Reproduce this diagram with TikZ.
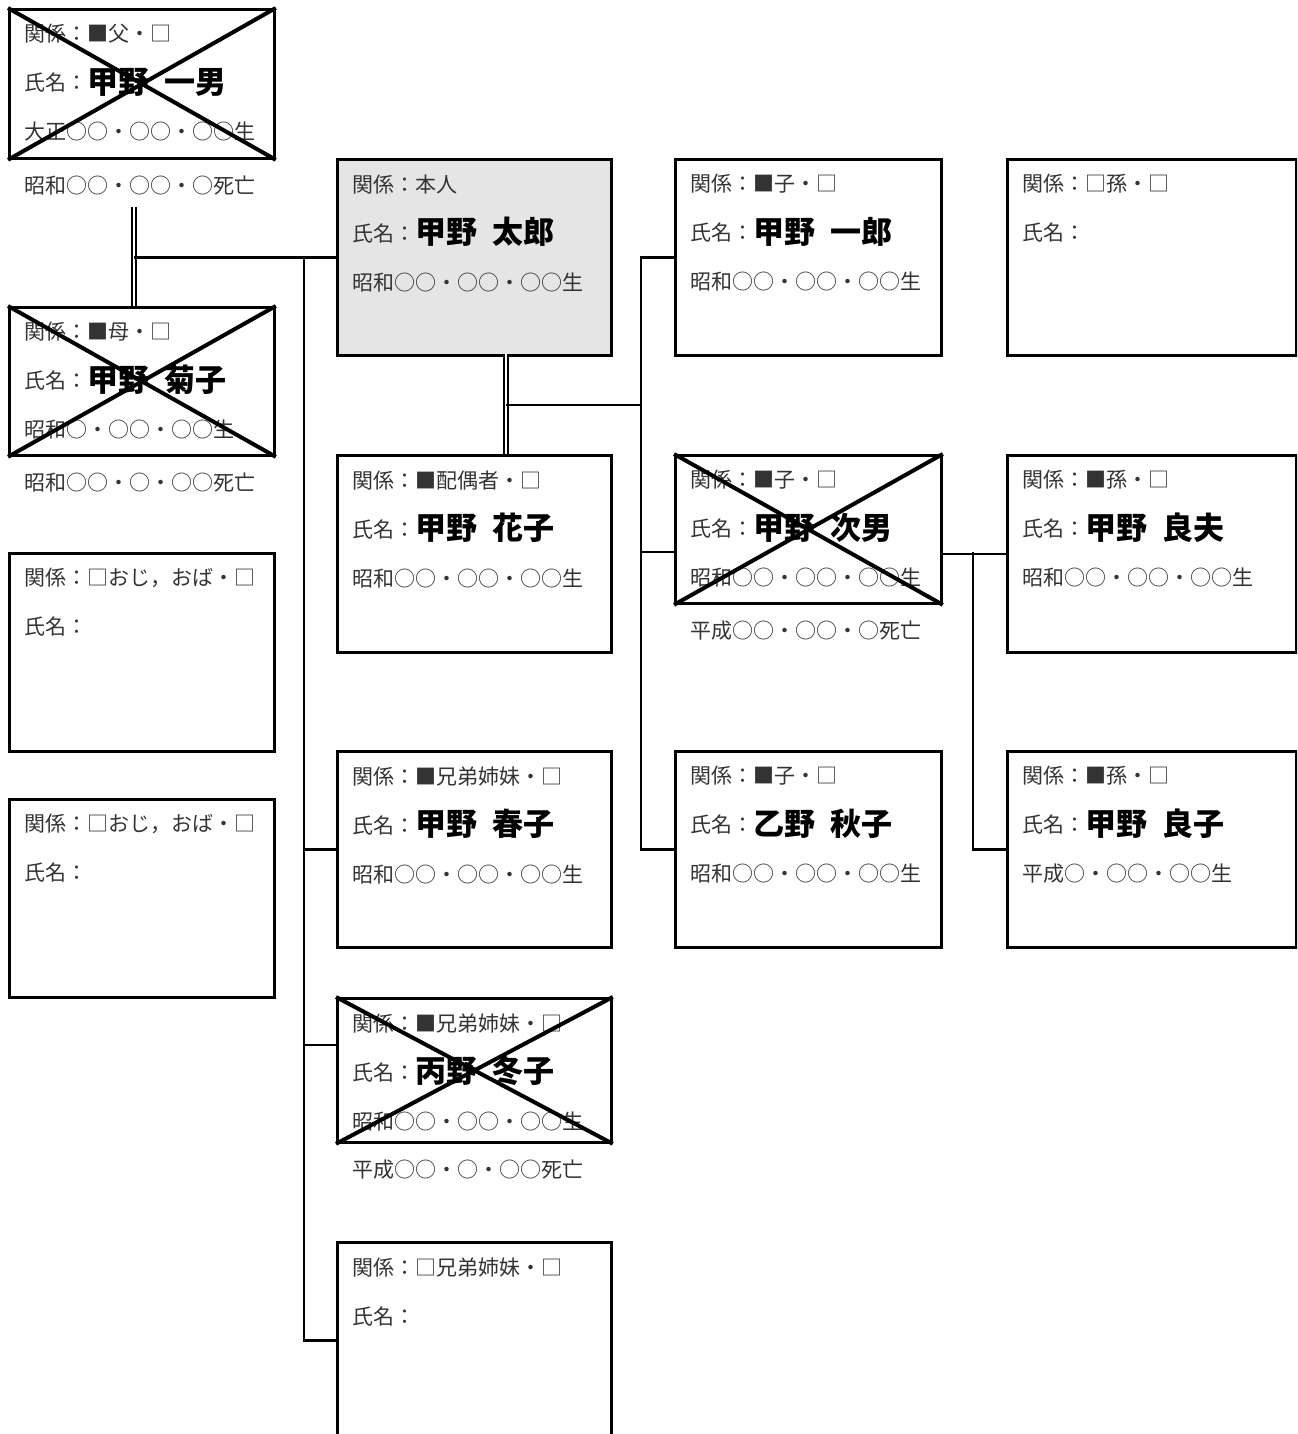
\documentclass[tikz,border=0pt]{standalone}
\usepackage{fontspec}
\setmainfont{Noto Sans CJK JP}
\usepackage{xcolor}
\newcommand{\kname}[2]{\raisebox{-1.2pt}{\color{black}\fontsize{15.5}{24.5}\selectfont\bfseries #1\enspace #2}}

\begin{document}
\begin{tikzpicture}[x=0.5pt,y=-0.5pt,
  card/.style={draw,line width=1.4pt,anchor=north west,inner sep=0pt},
  lcol/.style={card,minimum width=132.5pt},
  mcol/.style={card,minimum width=137pt},
  ccol/.style={card,minimum width=133pt},
  gcol/.style={card,minimum width=144.5pt},
  txt/.style={anchor=north west,inner sep=0pt,align=left,text=black!80,
              font=\fontsize{10.5}{24.5}\selectfont},
  conn/.style={line width=1.2pt},
  dbl/.style={double,double distance=0.9pt,line width=0.85pt},
  cross/.style={line width=2pt}]
\useasboundingbox (0,0) rectangle (1297,1434);
\clip (0,0) rectangle (1297,1434);

% left column
\node[lcol,minimum height=74.5pt] (fa) at (8,8) {};
\node[lcol,minimum height=74pt] (mo) at (8,306) {};
\node[lcol,minimum height=99pt] (un1) at (8,552) {};
\node[lcol,minimum height=99pt] (un2) at (8,798) {};

% self, spouse, siblings
\node[mcol,minimum height=98pt,fill=gray!20] (self) at (336,158) {};
\node[mcol,minimum height=98.5pt] (sp) at (336,454) {};
\node[mcol,minimum height=98pt] (sb1) at (336,750) {};
\node[mcol,minimum height=72pt] (sb2) at (336,997) {};
\node[mcol,minimum height=98pt] (sb3) at (336,1241) {};

% children
\node[ccol,minimum height=98pt] (c1) at (674,158) {};
\node[ccol,minimum height=74pt] (c2) at (674,454) {};
\node[ccol,minimum height=98pt] (c3) at (674,750) {};

% grandchildren
\node[gcol,minimum height=98pt] (g1) at (1006,158) {};
\node[gcol,minimum height=98.5pt] (g2) at (1006,454) {};
\node[gcol,minimum height=98pt] (g3) at (1006,750) {};

% texts
\node[txt] (fa-t) at ([shift={(16,16)}]fa.north west)
  {関係：■父・□\\氏名：\kname{甲野}{一男}\\大正○○・○○・○○生};
\node[txt] (fa-d) at ([shift={(16,16)}]fa.south west) {昭和○○・○○・○死亡};
\node[txt] (mo-t) at ([shift={(16,16)}]mo.north west)
  {関係：■母・□\\氏名：\kname{甲野}{菊子}\\昭和○・○○・○○生};
\node[txt] (mo-d) at ([shift={(16,16)}]mo.south west) {昭和○○・○・○○死亡};
\node[txt] (un1-t) at ([shift={(16,16)}]un1.north west) {関係：□おじ，おば・□\\氏名：};
\node[txt] (un2-t) at ([shift={(16,16)}]un2.north west) {関係：□おじ，おば・□\\氏名：};

\node[txt] (self-t) at ([shift={(16,16)}]self.north west)
  {関係：本人\\氏名：\kname{甲野}{太郎}\\昭和○○・○○・○○生};
\node[txt] (sp-t) at ([shift={(16,16)}]sp.north west)
  {関係：■配偶者・□\\氏名：\kname{甲野}{花子}\\昭和○○・○○・○○生};
\node[txt] (sb1-t) at ([shift={(16,16)}]sb1.north west)
  {関係：■兄弟姉妹・□\\氏名：\kname{甲野}{春子}\\昭和○○・○○・○○生};
\node[txt] (sb2-t) at ([shift={(16,16)}]sb2.north west)
  {関係：■兄弟姉妹・□\\氏名：\kname{丙野}{冬子}\\昭和○○・○○・○○生};
\node[txt] (sb2-d) at ([shift={(16,16)}]sb2.south west) {平成○○・○・○○死亡};
\node[txt] (sb3-t) at ([shift={(16,16)}]sb3.north west) {関係：□兄弟姉妹・□\\氏名：};

\node[txt] (c1-t) at ([shift={(16,16)}]c1.north west)
  {関係：■子・□\\氏名：\kname{甲野}{一郎}\\昭和○○・○○・○○生};
\node[txt] (c2-t) at ([shift={(16,16)}]c2.north west)
  {関係：■子・□\\氏名：\kname{甲野}{次男}\\昭和○○・○○・○○生};
\node[txt] (c2-d) at ([shift={(16,16)}]c2.south west) {平成○○・○○・○死亡};
\node[txt] (c3-t) at ([shift={(16,16)}]c3.north west)
  {関係：■子・□\\氏名：\kname{乙野}{秋子}\\昭和○○・○○・○○生};

\node[txt] (g1-t) at ([shift={(16,16)}]g1.north west) {関係：□孫・□\\氏名：};
\node[txt] (g2-t) at ([shift={(16,16)}]g2.north west)
  {関係：■孫・□\\氏名：\kname{甲野}{良夫}\\昭和○○・○○・○○生};
\node[txt] (g3-t) at ([shift={(16,16)}]g3.north west)
  {関係：■孫・□\\氏名：\kname{甲野}{良子}\\平成○・○○・○○生};

% crossed out
\foreach \n in {fa,mo,sb2,c2}
  \draw[cross] (\n.north west) -- (\n.south east) (\n.north east) -- (\n.south west);

% connectors
\coordinate (par-x) at (134,207);
\coordinate (sib-x) at (304,257);
\coordinate (sp-x) at (506,354);
\coordinate (kid-x) at (641,405);
\coordinate (sb2-in) at (336,1045);
\coordinate (c2-in) at (674,552);
\coordinate (gk-x) at (973,552);

\draw[dbl] (par-x) -- (par-x |- mo.north);
\draw[conn] (self.west) -- (self.west -| par-x);
\draw[conn] (sib-x) |- (sb3.west);
\draw[conn] (sb1.west) -- (sb1.west -| sib-x);
\draw[conn] (sb2-in) -- (sb2-in -| sib-x);

\draw[dbl] (sp-x) -- (sp-x |- sp.north);
\draw[conn] (kid-x) -- (kid-x -| sp-x);
\draw[conn] (c1.west) -| (kid-x |- c3.west) -- (c3.west);
\draw[conn] (c2-in) -- (c2-in -| kid-x);

\draw[conn] (g2.west) -- (g2.west -| c2.east);
\draw[conn] (gk-x) |- (g3.west);
\end{tikzpicture}
\end{document}
